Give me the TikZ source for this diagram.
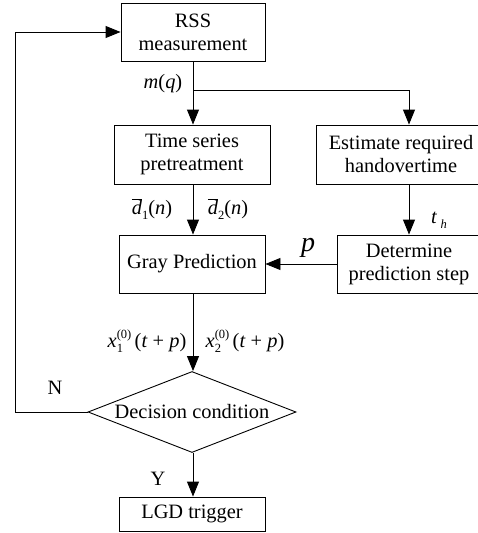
\documentclass[tikz,border=0pt]{standalone}
\usepackage{fontspec}
\setmainfont{Liberation Serif}
\usetikzlibrary{arrows.meta,shapes.geometric}
\newcommand{\smallsub}[1]{\raisebox{-5pt}{\fontsize{12.5}{13}\selectfont #1}}
\newcommand{\subsup}[2]{\rlap{\smallsub{#1}}\raisebox{9pt}{\fontsize{12.5}{13}\selectfont #2}}
\begin{document}
\begin{tikzpicture}[x=1pt,y=-1pt,
  font=\fontsize{20.4}{23}\selectfont,
  box/.style={draw,line width=0.9pt,align=center,inner sep=0pt},
  lab/.style={inner sep=0pt},
  conn/.style={line width=0.9pt},
  arr/.style={conn,-{Triangle[length=15pt,width=12pt]}}]
\useasboundingbox (0,0) rectangle (477,533);
\node[box,minimum width=144pt,minimum height=58pt] (rss) at (193,32) {RSS\\measurement};
\node[box,minimum width=156pt,minimum height=59pt] (ts) at (192,154.5) {Time series\\pretreatment};
\node[box,minimum width=170pt,minimum height=59pt] (est) at (401,154.5) {Estimate required\\handovertime};
\node[box,minimum width=146pt,minimum height=58pt] (gp) at (192,264) {Gray Prediction};
\node[box,minimum width=144pt,minimum height=58pt] (det) at (409,264) {Determine\\prediction step};
\node[draw,line width=0.9pt,diamond,minimum width=208pt,minimum height=81pt,inner sep=0pt] (dc) at (192,412) {\makebox[0pt]{Decision condition}};
\node[box,minimum width=146pt,minimum height=34pt] (lgd) at (192,514) {LGD trigger};
\coordinate (br) at (193,90);
\coordinate (loopa) at (15,412);
\coordinate (loopb) at (15,32);
% connectors
\draw[arr] (rss.south) -- (rss.south |- ts.north);
\draw[arr] (br) -| ([xshift=8pt]est.north);
\draw[arr] (ts.south -| rss.south) -- (gp.north -| rss.south);
\draw[arr] ([xshift=8pt]est.south) -- (det.north);
\draw[arr] (det.west) -- (gp.east);
\draw[arr] (gp.south -| rss.south) -- (dc.north -| rss.south);
\draw[arr] (dc.south -| rss.south) -- (lgd.north -| rss.south);
\draw[arr] (dc.west) -- (loopa) -- (loopb) -- (rss.west);
% labels
\node[lab] (lmq) at (163,84) {\textit{m}(\textit{q})};
\node[lab] (ld1) at (152,209) {$\overline{\textit{d}}$\smallsub{1}(\textit{n})};
\node[lab] (ld2) at (228,209) {$\overline{\textit{d}}$\smallsub{2}(\textit{n})};
\node[lab] (lth) at (439,220) {\textit{t}\,\smallsub{\textit{h}}};
\node[lab] (lp) at (308,248) {\fontsize{28}{30}\selectfont\textit{p}};
\node[lab] (lx1) at (147,341) {\textit{x}\subsup{1}{(0)}\,(\textit{t} + \textit{p})};
\node[lab] (lx2) at (245,341) {\textit{x}\subsup{2}{(0)}\,(\textit{t} + \textit{p})};
\node[lab] (ln) at (55,388) {N};
\node[lab] (ly) at (158,479) {Y};
\end{tikzpicture}
\end{document}
